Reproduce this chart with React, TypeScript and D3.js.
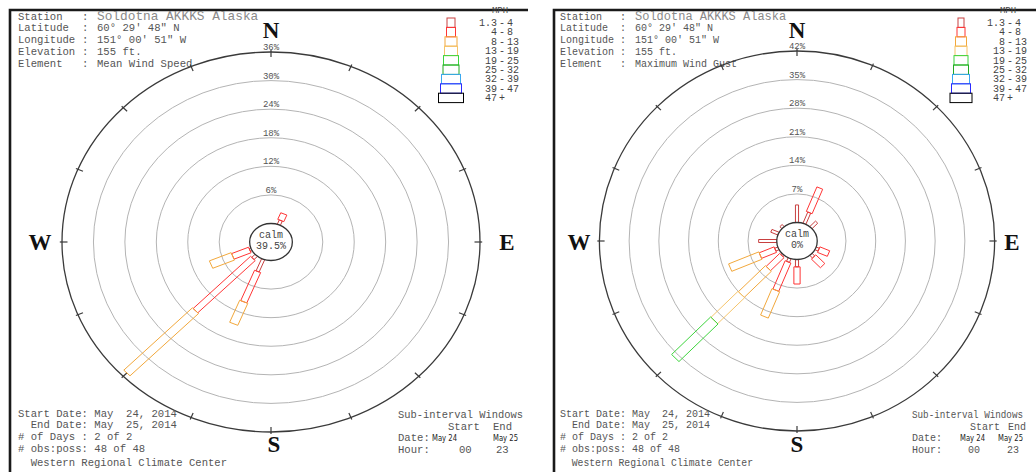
import React from "react";
import * as d3 from "d3";

// ---------- data ----------
const directions = ["N","NNE","NE","ENE","E","ESE","SE","SSE","S","SSW","SW","WSW","W","WNW","NW","NNW"];
const classLower = ["1.3","4","8","13","19","25","32","39","47"];
const classUpper = ["4","8","13","19","25","32","39","47","+"];
const classColors = ["#c84040","#ff3535","#f2a83c","#f5c46a","#3cd43c","#22a822","#3aa8f0","#2a2aff","#000000"];

// percent frequency per direction (N, NNE, ... NNW), per speed class
const meanSpeedFreq: number[][] = [
  [], [1.0, 1.5], [], [], [], [], [], [], [],
  [2.8, 6.9, 5.0], [1.0, 15.5, 18.5], [0.5, 3.5, 4.5], [], [], [], [],
];
const maxGustFreq: number[][] = [
  [4.3], [3.0, 6.5], [2.0], [], [], [1.0, 2.5], [1.0, 3.0], [], [1.8, 4.2],
  [1.0, 7.5, 7.0], [0.5, 4.5, 9.0, 9.0, 13.0], [1.0, 3.8, 7.7], [4.5], [2.0], [0.8], [],
];
const meanRings = [6, 12, 18, 24, 30, 36];
const gustRings = [7, 14, 21, 28, 35, 42];
const meanCalm = "39.5%";
const gustCalm = "0%";

const headerLabels = ["Station", "Latitude", "Longitude", "Elevation", "Element"];
const stationName = "Soldotna AKKKS Alaska";
const latitude = "60\u00b0 29' 48\" N";
const longitude = "151\u00b0 00' 51\" W";
const elevation = "155 ft.";
const meanElement = "Mean Wind Speed";
const gustElement = "Maximum Wind Gust";
const footerLines = ["Start Date: May  24, 2014", "  End Date: May  25, 2014", "# of Days : 2 of 2", "# obs:poss: 48 of 48"];
const centerName = "  Western Regional Climate Center";

const MONO = "'Liberation Mono', 'DejaVu Sans Mono', monospace";
const SERIF = "'Liberation Serif', 'DejaVu Serif', serif";
const SANS = "'DejaVu Sans', 'Liberation Sans', sans-serif";

const keepSpaces = (s: string) => s.replace(/ /g, "\u00a0");

type Cfg = {
  fx: number; fr: number;
  cx: number; cy: number; sx: number; R: number; r0: number;
  rings: number[]; freq: number[][]; calm: string; element: string;
  fs: number; hx: number; colonX: number; valX: number; nameFs: number;
  legCx: number; legW: number[]; dashX: number;
  comp: { N: [number, number]; S: [number, number]; W: [number, number]; E: [number, number] };
  sub: { x: number; start: number; end: number; d1: number; d2: number; h1: number; h2: number; subLen: number };
  centerLen: number;
};

const widths = [3, 6, 8, 9, 10, 12, 14, 16, 18];

function Panel({ c }: { c: Cfg }) {
  const maxPct = c.rings[c.rings.length - 1];
  const r = d3.scaleLinear().domain([0, maxPct]).range([c.r0, c.R]);
  const ticks = d3.range(16).map((i) => i * 22.5);
  const hy = [19.5, 31, 42.5, 54.5, 66.5];
  const values = [null, latitude, longitude, elevation, c.element];
  return (
    <g>
      {/* frame */}
      <path d={`M${c.fx},472 V10 H${c.fr}`} fill="none" stroke="#1a1a1a" strokeWidth={2.6} />
      {/* header */}
      {headerLabels.map((h, i) => (
        <g key={h} fontFamily={MONO} fontSize={c.fs} fill="#555">
          <text x={c.hx} y={hy[i]}>{h}</text>
          <text x={c.colonX} y={hy[i]}>:</text>
          {i === 0 ? (
            <text x={c.valX} y={20} fontSize={c.nameFs} fill="#8a8a8a">{stationName}</text>
          ) : (
            <text x={c.valX} y={hy[i]}>{values[i]}</text>
          )}
        </g>
      ))}
      {/* legend */}
      <text x={c.dashX - 2} y={13} fontFamily={MONO} fontSize={9} fill="#444" textAnchor="middle">MPH</text>
      {classLower.map((lo, k) => {
        const y = 18 + k * 9.4;
        const w = c.legW[k];
        return (
          <g key={lo}>
            <rect x={c.legCx - w / 2} y={y} width={w} height={9.4} fill="none" stroke={classColors[k]} strokeWidth={1} />
            <g fontFamily={MONO} fontSize={10} fill="#444">
              <text x={c.dashX - 5} y={y + 8} textAnchor="end">{lo}</text>
              {classUpper[k] === "+" ? (
                <text x={c.dashX} y={y + 8} textAnchor="middle">+</text>
              ) : (
                <>
                  <text x={c.dashX} y={y + 8} textAnchor="middle">-</text>
                  <text x={c.dashX + 5} y={y + 8}>{classUpper[k]}</text>
                </>
              )}
            </g>
          </g>
        );
      })}
      {/* rose */}
      <g transform={`translate(${c.cx},${c.cy})`}>
        {c.rings.slice(0, -1).map((v) => (
          <ellipse key={v} rx={r(v) * c.sx} ry={r(v)} fill="none" stroke="#b4b4b4" strokeWidth={1} />
        ))}
        <ellipse rx={c.R * c.sx} ry={c.R} fill="none" stroke="#3a3a3a" strokeWidth={1.3} />
        {ticks.map((a) => {
          const t = (a * Math.PI) / 180;
          const p1 = [Math.sin(t) * (c.R - 5) * c.sx, -Math.cos(t) * (c.R - 5)];
          const p2 = [Math.sin(t) * (c.R + 2) * c.sx, -Math.cos(t) * (c.R + 2)];
          return <line key={a} x1={p1[0]} y1={p1[1]} x2={p2[0]} y2={p2[1]} stroke="#3a3a3a" strokeWidth={1.2} />;
        })}
        {c.rings.map((v) => (
          <text key={v} x={0} y={-r(v) - 2} textAnchor="middle" fontFamily={MONO} fontSize={9} fill="#555">{v}%</text>
        ))}
        <g transform={`scale(${c.sx},1)`}>
          {c.freq.map((f, i) => {
            const cum = d3.cumsum(f);
            return (
              <g key={directions[i]} transform={`rotate(${i * 22.5})`}>
                {f.map((v, k) => {
                  if (v <= 0) return null;
                  const ra = r(k === 0 ? 0 : cum[k - 1]);
                  const rb = r(cum[k]);
                  const w = widths[k];
                  return (
                    <rect key={k} x={-w / 2} y={-rb} width={w} height={rb - ra} fill="none"
                      stroke={classColors[k]} strokeWidth={1} vectorEffect="non-scaling-stroke" />
                  );
                })}
              </g>
            );
          })}
        </g>
        <ellipse rx={c.r0 * c.sx + 1} ry={c.r0} fill="#fff" stroke="#333" strokeWidth={1.3} />
        <text x={0} y={-4} textAnchor="middle" fontFamily={MONO} fontSize={10} fill="#444">calm</text>
        <text x={0} y={7} textAnchor="middle" fontFamily={MONO} fontSize={10} fill="#444">{c.calm}</text>
      </g>
      {/* compass letters */}
      <g fontFamily={SERIF} fontWeight="bold" fontSize={23} fill="#111" textAnchor="middle">
        <text x={c.comp.N[0]} y={c.comp.N[1]}>N</text>
        <text x={c.comp.S[0]} y={c.comp.S[1]}>S</text>
        <text x={c.comp.W[0]} y={c.comp.W[1]}>W</text>
        <text x={c.comp.E[0]} y={c.comp.E[1]}>E</text>
      </g>
      {/* footer */}
      <g fontFamily={MONO} fontSize={c.fs} fill="#555">
        {footerLines.map((t, i) => (
          <text key={i} x={c.hx} y={[416.5, 428, 440, 451.5][i]}>{keepSpaces(t)}</text>
        ))}
        <text x={c.hx} y={466} textLength={c.centerLen} lengthAdjust="spacingAndGlyphs">{keepSpaces(centerName)}</text>
        <text x={c.sub.x} y={418} textLength={c.sub.subLen} lengthAdjust="spacingAndGlyphs">Sub-interval Windows</text>
        <text x={c.sub.start} y={430}>Start</text>
        <text x={c.sub.end} y={430}>End</text>
        <text x={c.sub.x} y={441}>Date:</text>
        <text x={c.sub.x} y={452.5}>Hour:</text>
        <text x={c.sub.h1} y={452.5}>00</text>
        <text x={c.sub.h2} y={452.5}>23</text>
      </g>
      <g fontFamily={SANS} fontSize={9.5} fill="#222">
        <text x={c.sub.d1} y={441} textLength={25} lengthAdjust="spacingAndGlyphs">May 24</text>
        <text x={c.sub.d2} y={441} textLength={25} lengthAdjust="spacingAndGlyphs">May 25</text>
      </g>
    </g>
  );
}

const leftCfg: Cfg = {
  fx: 10, fr: 528, cx: 271, cy: 242, sx: 1.1, R: 190, r0: 18.5,
  rings: meanRings, freq: meanSpeedFreq, calm: meanCalm, element: meanElement,
  fs: 10.6, hx: 18, colonX: 82, valX: 97, nameFs: 12.8,
  legCx: 451, legW: [8, 9, 12, 13, 15, 16, 19, 21, 25], dashX: 502,
  comp: { N: [271, 38], S: [274, 452], W: [40, 250], E: [507, 250] },
  sub: { x: 398, start: 448, end: 493, d1: 432, d2: 493, h1: 459, h2: 496, subLen: 125 },
  centerLen: 209,
};

const rightCfg: Cfg = {
  fx: 554, fr: 1040, cx: 797, cy: 241, sx: 1.04, R: 190, r0: 18.5,
  rings: gustRings, freq: maxGustFreq, calm: gustCalm, element: gustElement,
  fs: 10, hx: 560, colonX: 620, valX: 635, nameFs: 12,
  legCx: 961, legW: [6, 8, 11, 12, 14, 15, 17, 19, 22], dashX: 1010,
  comp: { N: [797, 38], S: [797, 452], W: [579, 250], E: [1012, 250] },
  sub: { x: 912, start: 970, end: 1008, d1: 960, d2: 998, h1: 968, h2: 1007, subLen: 111 },
  centerLen: 193,
};

export default function App() {
  return (
    <svg width={1036} height={472} viewBox="0 0 1036 472"
      style={{ position: "absolute", left: 0, top: 0, display: "block", background: "#fff" }}>
      <rect width={1036} height={472} fill="#fff" />
      <Panel c={leftCfg} />
      <Panel c={rightCfg} />
    </svg>
  );
}
